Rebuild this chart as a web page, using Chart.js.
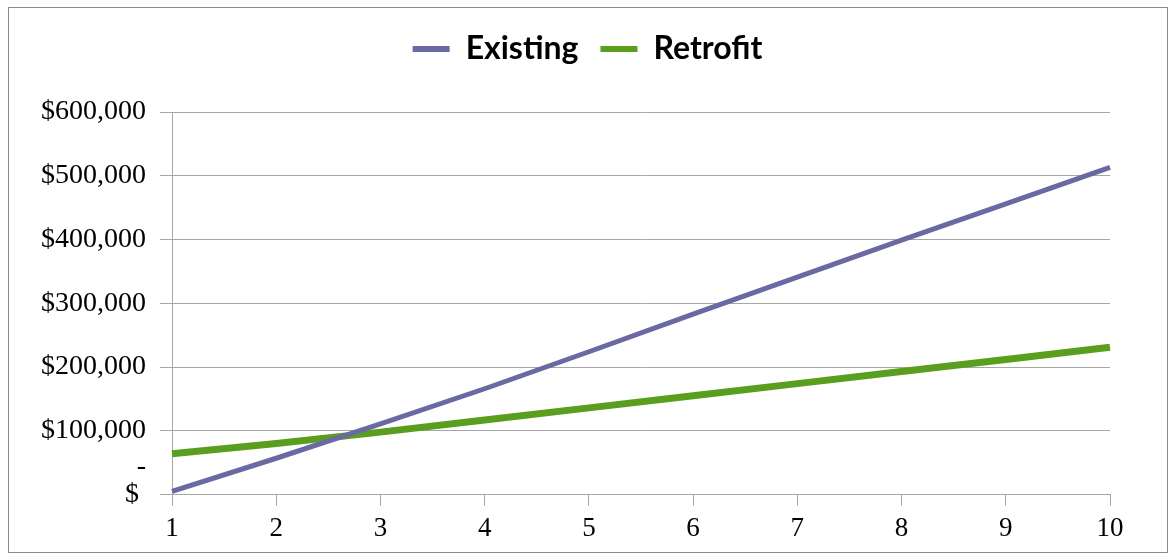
<!DOCTYPE html>
<html>
<head>
<meta charset="utf-8">
<script src="https://cdn.jsdelivr.net/npm/chart.js@4/dist/chart.umd.min.js"></script>
<style>
  html, body { margin: 0; padding: 0; background: #fff; }
  #wrap { position: absolute; left: 8px; top: 7px; width: 1160px; height: 546px; box-sizing: border-box; border: 1px solid #8c8c8c; background: #fff; }
  canvas { display: block; }
</style>
</head>
<body>
<div id="wrap"><canvas id="c"></canvas></div>
<script>
const categories = ['1', '2', '3', '4', '5', '6', '7', '8', '9', '10'];
const existingValues = [5000, 57000, 111000, 166000, 224000, 283000, 341000, 399000, 456000, 513000];
const retrofitValues = [64000, 80000, 98000, 117000, 136000, 155000, 174000, 193000, 212000, 231000];
const seriesNames = ['Existing', 'Retrofit'];
const yTickValues = [0, 100000, 200000, 300000, 400000, 500000, 600000];

const gridColor = '#a6a6a6';

const legendSpacer = {
  id: 'legendSpacer',
  beforeLayout(chart) {
    const lg = chart.legend;
    if (lg && !lg._spaced) {
      const origFit = lg.fit;
      lg.fit = function () {
        origFit.call(this);
        this.height += 37;
      };
      lg._spaced = true;
    }
  },
  afterLayout(chart) {
    const lg = chart.legend;
    if (lg) {
      lg.left += 19;
      lg.right += 19;
    }
  }
};

new Chart(document.getElementById('c'), {
  type: 'line',
  data: {
    labels: categories,
    datasets: [
      { label: seriesNames[0], data: existingValues, borderColor: '#6b69a2', backgroundColor: '#6b69a2', borderWidth: 5, pointRadius: 0, tension: 0 },
      { label: seriesNames[1], data: retrofitValues, borderColor: '#5a9e1e', backgroundColor: '#5a9e1e', borderWidth: 7, pointRadius: 0, tension: 0 }
    ]
  },
  plugins: [legendSpacer],
  options: {
    responsive: true,
    maintainAspectRatio: false,
    animation: false,
    layout: { padding: { left: 18, right: 57, top: 3, bottom: 0 } },
    plugins: {
      legend: {
        position: 'top',
        labels: {
          boxWidth: 37,
          boxHeight: 6,
          padding: 22,
          color: '#000',
          font: { family: 'Lato', size: 32, weight: 'bold' },
          generateLabels: (chart) => Chart.defaults.plugins.legend.labels.generateLabels(chart).map(l => Object.assign(l, { lineWidth: 0 }))
        }
      },
      tooltip: { enabled: false }
    },
    scales: {
      x: {
        offset: false,
        grid: { display: true, drawOnChartArea: false, drawTicks: true, tickLength: 11, color: gridColor },
        border: { display: true, color: gridColor, width: 1 },
        ticks: { color: '#000', padding: 7, maxRotation: 0, autoSkip: false, font: { family: 'Liberation Serif', size: 27 } }
      },
      y: {
        min: 0,
        max: 600000,
        afterBuildTicks: (axis) => { axis.ticks = yTickValues.map(v => ({ value: v })); },
        grid: { color: gridColor, tickLength: 12 },
        border: { display: true, color: gridColor, width: 1 },
        ticks: {
          color: '#000',
          padding: 14,
          autoSkip: false,
          font: { family: 'Liberation Serif', size: 28, lineHeight: 1.0 },
          callback: (v) => v === 0 ? ['-', '$ ', ''] : '$' + v.toLocaleString('en-US')
        }
      }
    }
  }
});
</script>
</body>
</html>
